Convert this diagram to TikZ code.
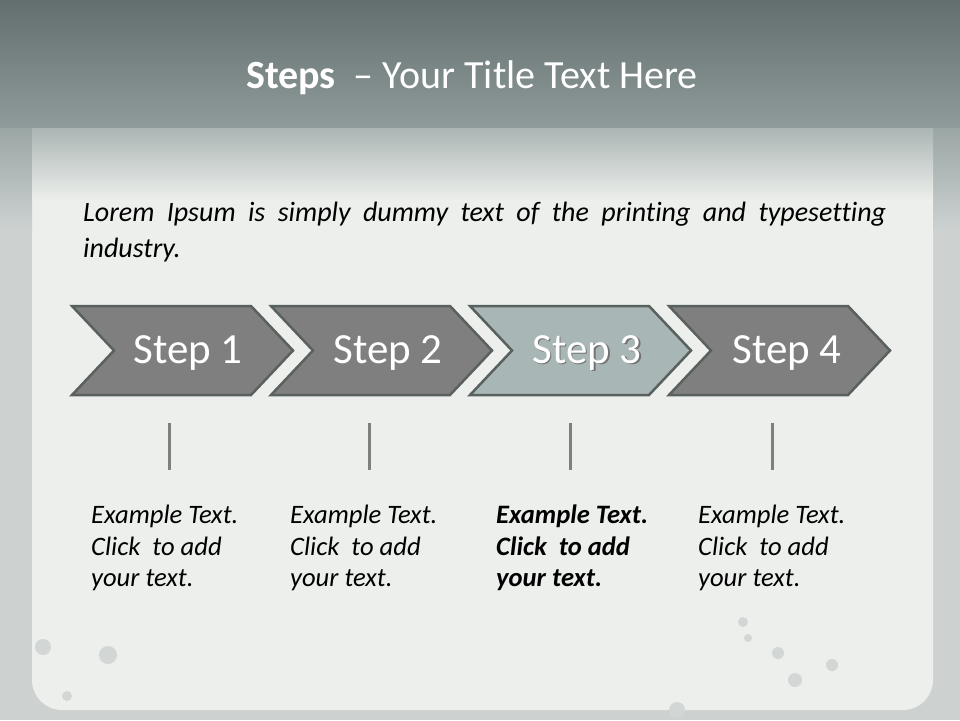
\documentclass[tikz,border=0pt]{standalone}
\usepackage{fontspec}
\setmainfont{Carlito}[Ligatures=NoCommon]
\usetikzlibrary{positioning}
\definecolor{bandtop}{HTML}{626F6E}
\definecolor{bandbot}{HTML}{8E9B9A}
\definecolor{frame}{HTML}{CDD2D1}
\definecolor{panel}{HTML}{ECEFEC}
\definecolor{edge}{HTML}{59615F}
\definecolor{chev}{HTML}{7F7F7F}
\definecolor{chevlight}{HTML}{A8B6B5}
\tikzset{
  chevron/.style = {fill=chev, draw=edge, line width=2.5pt, line join=miter},
  active/.style = {chevron, fill=chevlight},
  steplabel/.style = {text=white, anchor=base, inner sep=0pt,
    font=\fontsize{43}{50}\selectfont},
  tick/.style = {draw=chev, line width=3pt},
  note/.style = {anchor=north west, inner sep=0pt, align=left,
    font=\fontsize{26.6}{31.5}\selectfont\itshape},
  blob/.style = {fill=frame!85!panel}
}

\begin{document}
\begin{tikzpicture}[x=1pt,y=-1pt]
  \useasboundingbox (0,0) rectangle (960,720);
  \pgfmathsetmacro{\len}{179};
  \pgfmathsetmacro{\depth}{42};
  \pgfmathsetmacro{\half}{44.5};
  % background
  \fill[frame] (0,0) rectangle (960,720);
  \fill[panel,rounded corners=30] (32,100) rectangle (933,710);
  \shade[top color=bandbot!90!white, bottom color=frame] (0,127) rectangle (32,230);
  \shade[top color=bandbot!90!white, bottom color=frame] (933,127) rectangle (960,230);
  \shade[top color=bandbot!70!panel, bottom color=panel] (32,127) rectangle (933,200);
  \shade[top color=bandtop, bottom color=bandbot] (0,0) rectangle (960,127);
  \fill[blob] (43,647) circle (8) (108,655) circle (9) (67,696) circle (5);
  \fill[blob] (778,653) circle (6) (795,680) circle (7) (832,665) circle (6)
    (743,622) circle (5) (748,638) circle (4) (677,710) circle (8);
  % title
  \node[text=white, anchor=base, font=\fontsize{40}{48}\selectfont] (head) at (472,88)
    {\textbf{Steps}\ \ – Your Title Text Here};
  % intro
  \node[anchor=north west, inner sep=0pt, text width=803pt, align=justify,
    font=\fontsize{28}{36}\selectfont\itshape] (intro) at (83,202)
    {Lorem Ipsum is simply dummy text of the printing and typesetting \mbox{industry.}};
  % steps
  \draw[chevron] (72,306) coordinate (c1) -- ++(\len,0) -- ++(\depth,\half) coordinate (tip1)
    -- ++(-\depth,\half) -- ++(-\len,0) -- ++(\depth,-\half) -- cycle;
  \draw[chevron] (271,306) coordinate (c2) -- ++(\len,0) -- ++(\depth,\half) coordinate (tip2)
    -- ++(-\depth,\half) -- ++(-\len,0) -- ++(\depth,-\half) -- cycle;
  \draw[active] (470,306) coordinate (c3) -- ++(\len,0) -- ++(\depth,\half) coordinate (tip3)
    -- ++(-\depth,\half) -- ++(-\len,0) -- ++(\depth,-\half) -- cycle;
  \draw[chevron] (669,306) coordinate (c4) -- ++(\len,0) -- ++(\depth,\half) coordinate (tip4)
    -- ++(-\depth,\half) -- ++(-\len,0) -- ++(\depth,-\half) -- cycle;
  \node[steplabel] (s1) at (188,363) {Step 1};
  \node[steplabel] (s2) at (388,363) {Step 2};
  \node[steplabel, text=black!55] (s3shadow) at (588.5,364.5) {Step 3};
  \node[steplabel] (s3) at (587,363) {Step 3};
  \node[steplabel] (s4) at (787,363) {Step 4};
  % ticks
  \draw[tick] (169,423) coordinate (u1) -- (169,470) coordinate (d1);
  \draw[tick] (369,423) coordinate (u2) -- (369,470) coordinate (d2);
  \draw[tick] (570,423) coordinate (u3) -- (570,470) coordinate (d3);
  \draw[tick] (772,423) coordinate (u4) -- (772,470) coordinate (d4);
  % notes
  \node[note] (n1) at (91,505) {Example Text.\\Click\ \ to add\\your text.};
  \node[note] (n2) at (290,505) {Example Text.\\Click\ \ to add\\your text.};
  \node[note, font=\fontsize{26.6}{31.5}\selectfont\itshape\bfseries] (n3) at (496,505)
    {Example Text.\\Click\ \ to add\\your text.};
  \node[note] (n4) at (698,505) {Example Text.\\Click\ \ to add\\your text.};
\end{tikzpicture}
\end{document}
